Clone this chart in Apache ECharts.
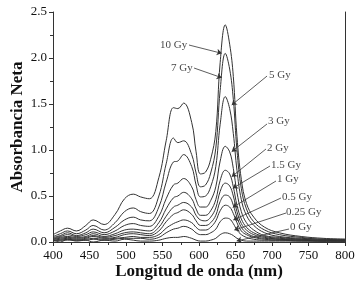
<!DOCTYPE html>
<html>
<head>
<meta charset="utf-8">
<script src="https://cdn.jsdelivr.net/npm/echarts@6/dist/echarts.min.js"></script>
<style>
  html, body { margin: 0; padding: 0; background: #fff; }
  #chart { width: 363px; height: 282px; }
</style>
</head>
<body>
<div id="chart"></div>
<script>
// longitud de onda (nm)
var wl = [400,410,420,432,445,455,470,485,498,510,520,532,545,555,565,571,579,590,596,602,609,616,623,629,636,642,647,652,658,665,675,690,710,740,770,800];

var doses = ['0 Gy','0.25 Gy','0.5 Gy','1 Gy','1.5 Gy','2 Gy','3 Gy','5 Gy','7 Gy','10 Gy'];

var abs0   = [0.02,0.00,0.03,0.01,0.02,0.00,0.02,0.01,0.03,0.02,0.01,0.01,0.02,0.04,0.05,0.05,0.06,0.04,0.02,0.01,0.01,0.02,0.04,0.08,0.10,0.09,0.07,0.04,0.02,0.01,0.01,0.01,0.01,0.01,0.01,0.01];
var abs025 = [0.01,0.02,0.02,0.02,0.02,0.03,0.02,0.03,0.04,0.04,0.04,0.03,0.05,0.10,0.14,0.15,0.17,0.14,0.10,0.08,0.08,0.10,0.14,0.22,0.26,0.25,0.20,0.13,0.08,0.05,0.03,0.02,0.02,0.01,0.01,0.01];
var abs05  = [0.02,0.02,0.03,0.02,0.03,0.04,0.03,0.04,0.05,0.06,0.05,0.05,0.08,0.15,0.20,0.22,0.24,0.21,0.16,0.13,0.13,0.16,0.23,0.34,0.40,0.38,0.31,0.21,0.12,0.08,0.05,0.03,0.02,0.02,0.01,0.01];
var abs1   = [0.02,0.03,0.04,0.03,0.04,0.06,0.04,0.05,0.08,0.09,0.08,0.07,0.12,0.22,0.30,0.32,0.35,0.30,0.23,0.18,0.18,0.21,0.29,0.44,0.51,0.49,0.40,0.27,0.16,0.10,0.06,0.04,0.03,0.02,0.01,0.01];
var abs15  = [0.03,0.04,0.05,0.04,0.05,0.07,0.05,0.07,0.10,0.11,0.10,0.09,0.16,0.28,0.38,0.40,0.43,0.38,0.29,0.24,0.23,0.27,0.37,0.55,0.64,0.61,0.50,0.33,0.20,0.13,0.08,0.05,0.03,0.02,0.02,0.01];
var abs2   = [0.03,0.05,0.06,0.05,0.06,0.09,0.06,0.09,0.13,0.14,0.13,0.12,0.21,0.36,0.48,0.50,0.54,0.47,0.36,0.29,0.29,0.34,0.46,0.67,0.78,0.74,0.60,0.40,0.25,0.16,0.10,0.06,0.04,0.03,0.02,0.02];
var abs3   = [0.04,0.06,0.08,0.06,0.08,0.11,0.08,0.12,0.18,0.20,0.18,0.17,0.28,0.47,0.62,0.64,0.69,0.60,0.46,0.38,0.38,0.45,0.60,0.88,1.04,0.98,0.80,0.54,0.33,0.21,0.13,0.07,0.05,0.03,0.02,0.02];
var abs5   = [0.05,0.07,0.10,0.07,0.10,0.14,0.10,0.16,0.24,0.27,0.24,0.23,0.38,0.65,0.87,0.88,0.95,0.82,0.62,0.49,0.50,0.60,0.82,1.28,1.58,1.45,1.18,0.78,0.46,0.29,0.18,0.10,0.06,0.04,0.03,0.02];
var abs7   = [0.06,0.09,0.12,0.09,0.13,0.18,0.13,0.21,0.33,0.37,0.33,0.31,0.50,0.85,1.13,1.08,1.10,0.95,0.75,0.60,0.62,0.75,1.02,1.65,2.05,1.88,1.55,1.00,0.58,0.36,0.22,0.13,0.08,0.05,0.03,0.03];
var abs10  = [0.08,0.12,0.15,0.12,0.18,0.24,0.19,0.30,0.47,0.52,0.49,0.47,0.70,1.10,1.46,1.45,1.51,1.30,0.98,0.74,0.76,0.90,1.20,1.95,2.36,2.15,1.80,1.15,0.68,0.42,0.27,0.16,0.10,0.06,0.04,0.03];

var curves = [abs0, abs025, abs05, abs1, abs15, abs2, abs3, abs5, abs7, abs10];

// etiquetas y flechas (en unidades de datos)
var labelAt   = [[724.7,0.163],[719.2,0.326],[713.7,0.489],[706.8,0.685],[698.6,0.837],[693.2,1.022],[694.5,1.315],[695.9,1.815],[561.6,1.891],[546.6,2.141]];
var arrowFrom = [[723.3,0.141],[719.2,0.315],[712.3,0.478],[705.5,0.663],[697.3,0.826],[691.8,1.011],[693.2,1.283],[693.2,1.804],[593.2,1.891],[586.3,2.141]];
var arrowTo   = [[651.6,0.011],[648.4,0.130],[647.0,0.239],[646.2,0.377],[646.2,0.584],[644.8,0.710],[644.8,0.982],[644.8,1.489],[631.1,1.786],[631.1,2.051]];

var FONT = 'Liberation Serif';
var myChart = echarts.init(document.getElementById('chart'));

var series = [];
for (var i = 0; i < curves.length; i++) {
    var pts = [];
    for (var j = 0; j < wl.length; j++) {
        pts.push([wl[j], curves[i][j]]);
    }
    series.push({
        name: doses[i],
        type: 'line',
        data: pts,
        smooth: 0.4,
        showSymbol: false,
        lineStyle: { color: '#333', width: 1 },
        silent: true,
        z: 2
    });
}

var arrows = [];
var labels = [];
for (var k = 0; k < doses.length; k++) {
    arrows.push({ coords: [arrowFrom[k], arrowTo[k]] });
    labels.push({ value: labelAt[k], name: doses[k] });
}
series.push({
    type: 'lines',
    coordinateSystem: 'cartesian2d',
    data: arrows,
    symbol: ['none', 'arrow'],
    symbolSize: 5,
    lineStyle: { color: '#333', width: 0.8, opacity: 1 },
    silent: true,
    z: 3
});
series.push({
    type: 'scatter',
    data: labels,
    symbolSize: 0,
    label: {
        show: true,
        position: 'right',
        distance: 0,
        formatter: '{b}',
        fontFamily: FONT,
        fontSize: 11,
        color: '#111'
    },
    silent: true,
    z: 4
});

var option = {
    animation: false,
    backgroundColor: '#fff',
    grid: { left: 53, right: 18, top: 12, bottom: 40, containLabel: false, outerBoundsMode: 'none' },
    xAxis: [{
        type: 'value',
        min: 400, max: 800, interval: 50,
        name: 'Longitud de onda (nm)',
        nameLocation: 'middle',
        nameGap: 21,
        nameMoveOverlap: false,
        nameTextStyle: { fontFamily: FONT, fontSize: 17, fontWeight: 'bold', color: '#111' },
        axisLine: { lineStyle: { color: '#333', width: 1 } },
        axisTick: { inside: false, length: 4, lineStyle: { color: '#333' } },
        minorTick: { show: true, splitNumber: 2, length: 3, lineStyle: { color: '#333' } },
        axisLabel: { fontFamily: FONT, fontSize: 13, color: '#111', margin: 7 },
        splitLine: { show: false }
    }, {
        type: 'value',
        position: 'top',
        min: 400, max: 800, interval: 50,
        axisLine: { show: true, lineStyle: { color: '#333', width: 1 } },
        axisTick: { show: true, inside: true, length: 4, lineStyle: { color: '#333' } },
        minorTick: { show: true, splitNumber: 2, length: 3, lineStyle: { color: '#333' } },
        axisLabel: { show: false },
        splitLine: { show: false }
    }],
    yAxis: [{
        type: 'value',
        min: 0, max: 2.5, interval: 0.5,
        name: 'Absorbancia Neta',
        nameLocation: 'middle',
        nameGap: 27,
        nameMoveOverlap: false,
        nameTextStyle: { fontFamily: FONT, fontSize: 17, fontWeight: 'bold', color: '#111' },
        axisLine: { show: true, lineStyle: { color: '#333', width: 1 } },
        axisTick: { show: true, inside: false, length: 4, lineStyle: { color: '#333' } },
        minorTick: { show: true, splitNumber: 2, length: 3, lineStyle: { color: '#333' } },
        axisLabel: {
            fontFamily: FONT, fontSize: 13, color: '#111', margin: 6,
            formatter: function (v) { return v.toFixed(1); }
        },
        splitLine: { show: false }
    }, {
        type: 'value',
        position: 'right',
        min: 0, max: 2.5, interval: 0.5,
        axisLine: { show: true, lineStyle: { color: '#333', width: 1 } },
        axisTick: { show: false },
        axisLabel: { show: false },
        splitLine: { show: false }
    }],
    series: series
};

myChart.setOption(option);
</script>
</body>
</html>
